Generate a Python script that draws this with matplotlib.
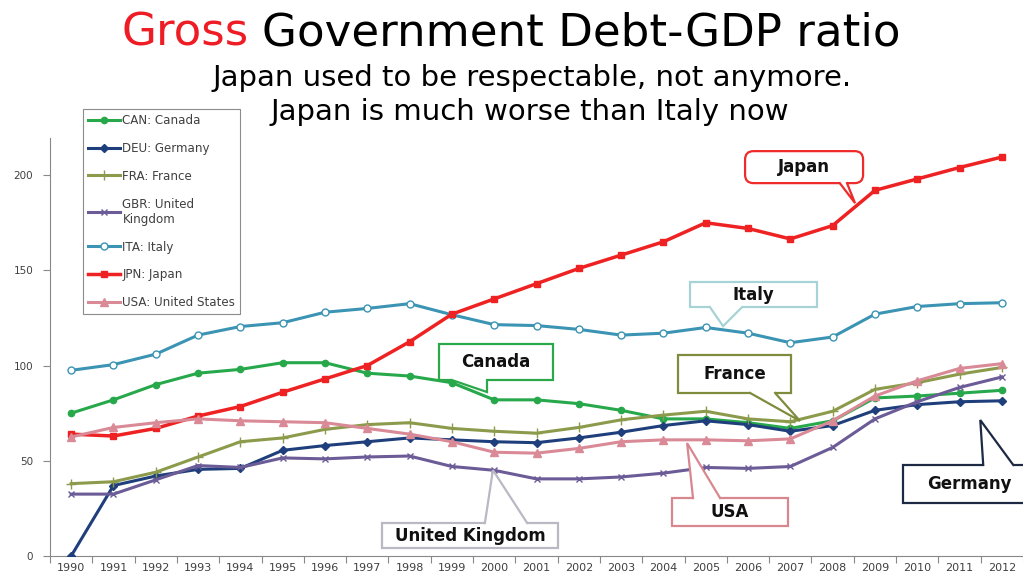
import numpy as np
import matplotlib.pyplot as plt
from matplotlib.patches import Polygon, FancyBboxPatch

plt.rcParams['font.family'] = ['DejaVu Sans']

# Gross government debt, % of GDP
years = [str(y) for y in range(1990, 2013)]
canada = [75, 82, 90, 96, 98, 101.5, 101.5, 96, 94.5, 91, 82, 82, 80, 76.5, 72, 72, 70, 67, 71, 83, 84, 85.5, 87]
germany = [0, 37, 42, 45.5, 46, 55.5, 58, 60, 62, 61, 60, 59.5, 62, 65, 68.5, 71, 69, 65.5, 68.5, 76.5, 79.5, 81, 81.5]
france = [38, 39, 44, 52, 60, 62, 66.5, 69, 70, 67, 65.5, 64.5, 67.5, 71.5, 74, 76, 72, 70.5, 76, 87.5, 91, 95.5, 99]
uk = [32.5, 32.5, 40, 47.5, 46.5, 51.5, 51, 52, 52.5, 47, 45, 40.5, 40.5, 41.5, 43.5, 46.5, 46, 47, 57, 72, 81, 88.5, 94]
italy = [97.5, 100.5, 106, 116, 120.5, 122.5, 128, 130, 132.5, 126.7, 121.5, 121, 119, 116, 117, 120, 117, 112, 115, 127, 131, 132.5, 133]
japan = [64, 63, 67, 73.5, 78.5, 86, 93, 100, 112.5, 127, 135, 143, 151, 158, 165, 175, 172, 166.5, 173.5, 192, 198, 204, 209.5]
usa = [62.5, 67.5, 70, 72, 71, 70.5, 70, 67, 64, 60, 54.5, 54, 56.5, 60, 61, 61, 60.5, 61.5, 71, 84, 92, 98.5, 101]

W, H = 1023, 576
fig = plt.figure(figsize=(W / 100, H / 100), dpi=100)
ax = fig.add_axes([50 / W, 1 - 556 / H, 973 / W, 418 / H])

x = np.arange(len(years))
series = [
    (canada, 'CAN: Canada', dict(color='#27a84b', marker='o', ms=4.5, lw=2.2)),
    (germany, 'DEU: Germany', dict(color='#1f3f7c', marker='D', ms=4.5, lw=2.2)),
    (france, 'FRA: France', dict(color='#8c9b4b', marker='+', ms=7, mew=1.0, lw=2.2)),
    (uk, 'GBR: United\nKingdom', dict(color='#6b5b96', marker='x', ms=5, mew=1.0, lw=2.2)),
    (italy, 'ITA: Italy', dict(color='#3b94b3', marker='o', ms=5, mfc='white', mew=1.0, lw=2.2)),
    (japan, 'JPN: Japan', dict(color='#ee2222', marker='s', ms=5, lw=2.5)),
    (usa, 'USA: United States', dict(color='#d98a96', marker='^', ms=5.5, lw=2.2)),
]
handles = []
for i, (vals, label, style) in enumerate(series):
    h, = ax.plot(x, vals, label=label, zorder=3 + i, **style)
    handles.append(h)

ax.set_xlim(-0.5, len(years) - 0.5)
ax.set_ylim(0, 219.5)
ax.set_yticks([0, 50, 100, 150, 200])
ax.set_xticks(np.arange(-0.5, len(years), 1))
ax.set_xticklabels([])
ax.set_xticks(x, minor=True)
ax.set_xticklabels(years, minor=True)
ax.tick_params(axis='x', which='major', length=5, color='#888888')
ax.tick_params(axis='x', which='minor', length=0, pad=5, labelsize=8, labelcolor='#404040')
ax.tick_params(axis='y', length=5, pad=7, color='#888888', labelsize=7.5, labelcolor='#404040')
for side in ('top', 'right'):
    ax.spines[side].set_visible(False)
for side in ('left', 'bottom'):
    ax.spines[side].set_color('#888888')

leg = fig.legend(handles=handles, loc='upper left', bbox_to_anchor=(83 / W, 1 - 109 / H),
                 fontsize=8.6, labelspacing=1.25, handlelength=2.7, handletextpad=0.2,
                 borderpad=0.4, borderaxespad=0, fancybox=False, framealpha=1)
leg.get_frame().set_edgecolor('#8c8c8c')
leg.get_frame().set_linewidth(0.8)
for t in leg.get_texts():
    t.set_color('#404040')


def callout(text, box, base, tip, color, rounded=False):
    x0, y0, x1, y1 = box
    # keep the corners round on screen, not in data units
    aspect = (ax.get_ylim()[1] / 418) / ((ax.get_xlim()[1] - ax.get_xlim()[0]) / 973)
    style = 'round,pad=0,rounding_size=0.2' if rounded else 'square,pad=0'
    ax.add_patch(FancyBboxPatch((x0, min(y0, y1)), x1 - x0, abs(y1 - y0), boxstyle=style,
                                mutation_aspect=aspect, fc='white', ec=color, lw=1.6,
                                zorder=20, clip_on=False))
    by = base[0][1]
    inward = 1.2 if by <= min(y0, y1) + 0.01 else -1.2
    pts = [(base[0][0], by + inward), base[0], tip, base[1], (base[1][0], by + inward)]
    ax.add_patch(Polygon(pts, closed=True, fc='white', ec='none', zorder=21, clip_on=False))
    ax.plot([base[0][0], tip[0], base[1][0]], [by, tip[1], by], color=color, lw=1.6,
            zorder=22, clip_on=False, solid_joinstyle='miter')
    ax.text((x0 + x1) / 2, (y0 + y1) / 2, text, ha='center', va='center', fontsize=12,
            fontweight='bold', color='#111111', zorder=23, clip_on=False)


callout('Japan', (15.93, 195.8, 18.72, 212.6), [(18.17, 195.8), (18.34, 195.8)], (18.53, 185.3), '#ee2a2a', rounded=True)
callout('Italy', (14.63, 130.7, 17.63, 143.8), [(15.10, 130.7), (15.86, 130.7)], (15.41, 120.7), '#a7d3d6')
callout('Canada', (8.70, 92.4, 11.39, 111.3), [(9.00, 92.4), (9.83, 92.4)], (9.83, 86.1), '#2aa84a')
callout('France', (14.35, 85.6, 17.02, 105.5), [(16.05, 85.6), (16.64, 85.6)], (17.23, 70.9), '#7f8c3d')
callout('USA', (14.20, 15.7, 16.95, 30.4), [(14.70, 30.4), (15.34, 30.4)], (14.56, 59.3), '#d9878f')
callout('United Kingdom', (7.35, 4.2, 11.51, 17.3), [(9.78, 17.3), (10.78, 17.3)], (9.97, 45.1), '#b9b9c4')
callout('Germany', (19.67, 27.8, 22.79, 47.8), [(21.56, 47.8), (22.27, 47.8)], (21.49, 71.4), '#1e2a44')

fig.text(121 / W, 1 - 33 / H, 'Gross', color='#ee1c24', fontsize=32.5, ha='left', va='center')
fig.text(262 / W, 1 - 33 / H, 'Government Debt-GDP ratio', color='black', fontsize=32.5, ha='left', va='center')
fig.text(532 / W, 1 - 78 / H, 'Japan used to be respectable, not anymore.', fontsize=21, ha='center', va='center')
fig.text(530 / W, 1 - 112 / H, 'Japan is much worse than Italy now', fontsize=21, ha='center', va='center')

fig.savefig('out.png', dpi=100)
